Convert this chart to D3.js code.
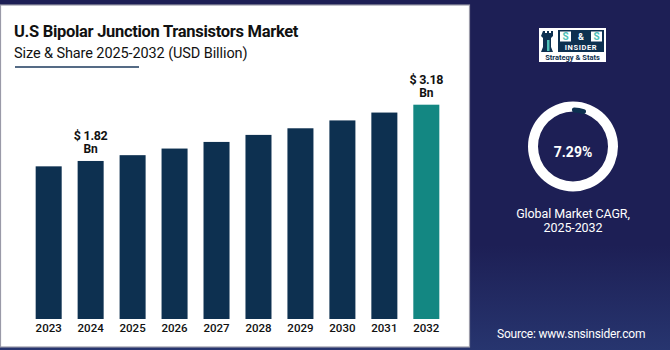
<!DOCTYPE html>
<html>
<head>
<meta charset="utf-8">
<script src="https://cdn.jsdelivr.net/npm/d3@7"></script>
<style>
  html, body { margin: 0; padding: 0; background: #1d1f55; }
  svg { display: block; font-family: Roboto, "Noto Sans", sans-serif; }
</style>
</head>
<body>
<div id="container"></div>
<script>
// DATA
const years = ["2023", "2024", "2025", "2026", "2027", "2028", "2029", "2030", "2031", "2032"];
const marketValues = [1.69, 1.82, 1.96, 2.12, 2.28, 2.45, 2.61, 2.80, 2.99, 3.18];
const labelledYears = ["2024", "2032"];
const cagrText = "7.29%";
const titleText = "U.S Bipolar Junction Transistors Market";
const subtitleText = "Size & Share 2025-2032 (USD Billion)";

const W = 670, H = 350;

const svg = d3.select("#container")
  .append("svg")
  .attr("width", W)
  .attr("height", H);

// background gradient (navy, slightly lighter at bottom)
const defs = svg.append("defs");
const grad = defs.append("linearGradient")
  .attr("id", "bg").attr("x1", 0).attr("y1", 0).attr("x2", 0).attr("y2", 1);
grad.append("stop").attr("offset", "0.7").attr("stop-color", "#1d1f55");
grad.append("stop").attr("offset", "1").attr("stop-color", "#27356f");

svg.append("rect").attr("width", W).attr("height", H).attr("fill", "url(#bg)");

// white card
svg.append("rect")
  .attr("x", 0.5).attr("y", 5)
  .attr("width", 469).attr("height", 342)
  .attr("fill", "#ffffff")
  .attr("stroke", "#9a9aa8")
  .attr("stroke-width", 1.2);

// TITLE
svg.append("text")
  .attr("x", 14).attr("y", 37)
  .attr("font-size", 16.5).attr("font-weight", 700)
  .attr("fill", "#111")
  .attr("letter-spacing", -0.3)
  .text(titleText);

svg.append("text")
  .attr("x", 14).attr("y", 58)
  .attr("font-size", 14.5)
  .attr("fill", "#111")
  .attr("letter-spacing", -0.1)
  .text(subtitleText);

svg.append("line")
  .attr("x1", 15).attr("x2", 139)
  .attr("y1", 67).attr("y2", 67)
  .attr("stroke", "#1d3a5c").attr("stroke-width", 1.5);

// SCALES
const xScale = d3.scaleBand()
  .domain(years)
  .range([27.7, 447.3])
  .paddingInner(0.38)
  .paddingOuter(0.19);

const yScale = d3.scaleLinear()
  .domain([-2, 3.18])
  .range([319, 104.7]);

const data = years.map((y, i) => ({ year: y, value: marketValues[i] }));

// BARS
svg.selectAll("rect.bar")
  .data(data)
  .enter()
  .append("rect")
  .attr("class", "bar")
  .attr("x", d => xScale(d.year))
  .attr("y", d => yScale(d.value))
  .attr("width", xScale.bandwidth())
  .attr("height", d => yScale(-2) - yScale(d.value))
  .attr("fill", (d, i) => i === years.length - 1 ? "#138782" : "#0d3050");

// VALUE LABELS
const labelled = data.filter(d => labelledYears.includes(d.year));
const lab = svg.selectAll("g.vlabel")
  .data(labelled)
  .enter()
  .append("g")
  .attr("class", "vlabel")
  .attr("transform", d => `translate(${xScale(d.year) + xScale.bandwidth() / 2}, ${yScale(d.value)})`);

lab.append("text")
  .attr("y", -20.5)
  .attr("text-anchor", "middle")
  .attr("font-size", 12.5).attr("font-weight", 700)
  .attr("fill", "#111")
  .attr("letter-spacing", -0.3)
  .text(d => `$ ${d.value.toFixed(2)}`);

lab.append("text")
  .attr("y", -8)
  .attr("text-anchor", "middle")
  .attr("font-size", 12).attr("font-weight", 700)
  .attr("fill", "#111")
  .text("Bn");

// X AXIS
const xAxis = svg.append("g")
  .attr("transform", `translate(0, 319)`)
  .call(d3.axisBottom(xScale).tickSize(0).tickPadding(5));
xAxis.select(".domain").remove();
xAxis.selectAll("text")
  .attr("font-family", "Roboto, sans-serif")
  .attr("font-size", 11.5)
  .attr("font-weight", 500)
  .attr("fill", "#111");

// LOGO
const logo = svg.append("g").attr("transform", "translate(539, 28)");
logo.append("rect").attr("width", 67).attr("height", 34).attr("fill", "#ffffff");
// rook icon
logo.append("path")
  .attr("d", "M4,3 h2 v2 h2 v-2 h2 v2 h2 v-2 h2 v5 l-2,2 v9 l2,5 h-12 l2,-5 v-9 l-2,-2 z")
  .attr("fill", "#0d3050");
logo.append("rect").attr("x", 8).attr("y", 12).attr("width", 2.5).attr("height", 11).attr("fill", "#4fc1b8");
// S & S boxes
logo.append("rect").attr("x", 19).attr("y", 2).attr("width", 46).attr("height", 22).attr("fill", "#0d3050");
logo.append("rect").attr("x", 21).attr("y", 3.5).attr("width", 11).attr("height", 10).attr("fill", "#ffffff");
logo.append("rect").attr("x", 52).attr("y", 3.5).attr("width", 11).attr("height", 10).attr("fill", "#ffffff");
logo.append("text").attr("x", 26.5).attr("y", 12.3).attr("text-anchor", "middle")
  .attr("font-size", 10).attr("font-weight", 700).attr("fill", "#4fc1b8").text("S");
logo.append("text").attr("x", 42).attr("y", 12.3).attr("text-anchor", "middle")
  .attr("font-size", 9).attr("font-weight", 700).attr("fill", "#ffffff").text("&");
logo.append("text").attr("x", 57.5).attr("y", 12.3).attr("text-anchor", "middle")
  .attr("font-size", 10).attr("font-weight", 700).attr("fill", "#4fc1b8").text("S");
logo.append("text").attr("x", 42).attr("y", 22).attr("text-anchor", "middle")
  .attr("font-size", 7.5).attr("font-weight", 700).attr("fill", "#ffffff")
  .attr("letter-spacing", 0.6).text("INSIDER");
logo.append("text").attr("x", 33.5).attr("y", 31.5).attr("text-anchor", "middle")
  .attr("font-size", 7.5).attr("font-weight", 700).attr("fill", "#0d3050")
  .text("Strategy & Stats");

// DONUT
const cx = 573, cy = 146.5;
const donut = svg.append("g").attr("transform", `translate(${cx}, ${cy})`);
donut.append("path")
  .attr("d", d3.arc().innerRadius(35).outerRadius(45).startAngle(0).endAngle(2 * Math.PI)())
  .attr("fill", "#ffffff");
donut.append("path")
  .attr("d", d3.arc().innerRadius(34).outerRadius(39).startAngle(-0.03).endAngle(0.36).cornerRadius(2.5)())
  .attr("fill", "#0d3050");
donut.append("text")
  .attr("y", 10)
  .attr("text-anchor", "middle")
  .attr("font-size", 14).attr("font-weight", 700)
  .attr("fill", "#ffffff")
  .text(cagrText);

svg.append("text")
  .attr("x", cx).attr("y", 217.5)
  .attr("text-anchor", "middle")
  .attr("font-size", 12.5).attr("fill", "#ffffff")
  .attr("letter-spacing", -0.1)
  .text("Global Market CAGR,");
svg.append("text")
  .attr("x", cx).attr("y", 231.5)
  .attr("text-anchor", "middle")
  .attr("font-size", 12.5).attr("fill", "#ffffff")
  .attr("letter-spacing", -0.1)
  .text("2025-2032");

// SOURCE
svg.append("text")
  .attr("x", 497).attr("y", 338)
  .attr("font-size", 12).attr("fill", "#ffffff")
  .attr("letter-spacing", -0.2)
  .text("Source: www.snsinsider.com");
</script>
</body>
</html>
